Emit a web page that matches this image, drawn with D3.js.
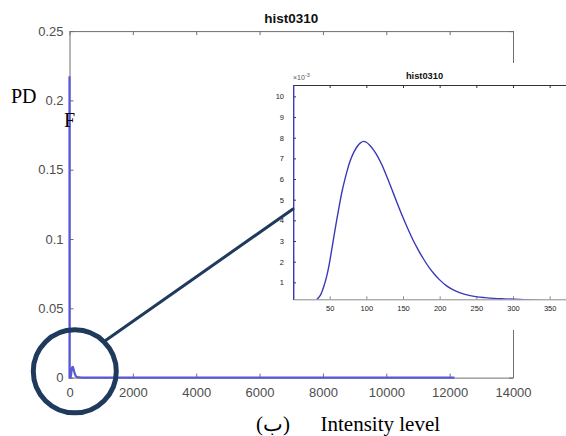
<!DOCTYPE html>
<html>
<head>
<meta charset="utf-8">
<script src="https://cdn.jsdelivr.net/npm/d3@7/dist/d3.min.js"></script>
<style>
  html, body { margin: 0; padding: 0; background: #fff; }
  svg { display: block; }
  .tick text { font-family: "Liberation Sans", Arial, Helvetica, sans-serif; }
</style>
</head>
<body>
<svg id="chart" width="566" height="436"></svg>
<script>
// Histogram of intensity levels (probability density)
const intensity = [0, 1, 30, 33, 38, 42, 46, 49, 53, 57, 60, 64, 67, 71, 74, 78, 83, 88, 92, 96,
  100, 105, 110, 115, 121, 128, 135, 142, 149, 156, 163, 170, 178, 186, 192, 200, 210, 220,
  228, 240, 251, 262, 274, 288, 301, 315, 337, 360, 400, 12150];
// density values in units of 1e-3
const pdfE3 = [217.5, 0, 0, 0.18, 0.42, 0.8, 1.3, 1.8, 2.62, 3.48, 4.1, 4.88, 5.42, 6.02, 6.42, 6.88,
  7.3, 7.6, 7.75, 7.82, 7.78, 7.62, 7.4, 7.12, 6.7, 6.11, 5.48, 4.84, 4.22, 3.64, 3.1, 2.62,
  2.13, 1.7, 1.43, 1.12, 0.82, 0.61, 0.49, 0.37, 0.30, 0.26, 0.225, 0.20, 0.18, 0.16, 0.12, 0.06, 0, 0];

const mainXTicks = [0, 2000, 4000, 6000, 8000, 10000, 12000, 14000];
const mainYTicks = [0, 0.05, 0.1, 0.15, 0.2, 0.25];
const insetXTicks = [50, 100, 150, 200, 250, 300, 350];
const insetYTicks = [1, 2, 3, 4, 5, 6, 7, 8, 9, 10];

const title = "hist0310";
const xLabel = "Intensity level";
const figTag = "(ب)";

const points = intensity.map((x, i) => ({ x, y: pdfE3[i] }));

const svg = d3.select("#chart");
const axisGray = "#6f6f6f";
const textGray = "#4d4d4d";
const lineBlue = "#5858d8";
const navy = "#1f3a5c";

// ---------- main axes ----------
const mx = d3.scaleLinear().domain([0, 14000]).range([69.5, 513]);
const my = d3.scaleLinear().domain([0, 0.25]).range([377.6, 31.1]);

function styleAxis(g, fs, col, lineCol) {
  g.selectAll("path.domain").attr("stroke", lineCol);
  g.selectAll(".tick line").attr("stroke", lineCol);
  g.selectAll(".tick text").attr("fill", col).attr("font-size", fs);
}

const gMain = svg.append("g");
gMain.append("g").attr("transform", `translate(0,${my(0)})`)
  .call(d3.axisBottom(mx).tickValues(mainXTicks).tickFormat(d3.format("d"))
    .tickSize(-4).tickSizeOuter(0).tickPadding(10.5))
  .call(g => styleAxis(g, 13, textGray, axisGray));
gMain.append("g").attr("transform", `translate(0,${my(0.25)})`)
  .call(d3.axisTop(mx).tickValues(mainXTicks).tickFormat("").tickSize(-4).tickSizeOuter(0))
  .call(g => styleAxis(g, 13, textGray, axisGray));
gMain.append("g").attr("transform", `translate(${mx(0)},0)`)
  .call(d3.axisLeft(my).tickValues(mainYTicks).tickFormat(d => d === 0 ? "0" : String(d))
    .tickSize(-4).tickSizeOuter(0).tickPadding(6))
  .call(g => styleAxis(g, 13, textGray, axisGray));
gMain.append("g").attr("transform", `translate(${mx(14000)},0)`)
  .call(d3.axisRight(my).tickValues(mainYTicks).tickFormat("").tickSize(-4).tickSizeOuter(0))
  .call(g => styleAxis(g, 13, textGray, axisGray));

gMain.append("text")
  .attr("x", (mx(0) + mx(14000)) / 2).attr("y", 23)
  .attr("text-anchor", "middle")
  .attr("font-family", "'Liberation Sans', Arial, sans-serif")
  .attr("font-weight", "bold").attr("font-size", 13.5).attr("fill", "#111")
  .text(title);

const mainLine = d3.line().x(d => mx(d.x)).y(d => my(d.y / 1000)).curve(d3.curveMonotoneX);
gMain.append("path").datum(points)
  .attr("d", mainLine).attr("fill", "none")
  .attr("stroke", lineBlue).attr("stroke-width", 2.2);

// Y label split over two lines, serif
svg.append("text").attr("x", 11).attr("y", 103)
  .attr("font-family", "'Liberation Serif', 'Times New Roman', serif")
  .attr("font-size", 20).attr("fill", "#000").text("PD");
svg.append("text").attr("x", 64).attr("y", 127)
  .attr("font-family", "'Liberation Serif', 'Times New Roman', serif")
  .attr("font-size", 20).attr("fill", "#000").text("F");

// X label with figure tag
svg.append("text").attr("x", 256).attr("y", 431)
  .attr("font-family", "'Liberation Serif', 'DejaVu Serif', serif")
  .attr("font-size", 21).attr("fill", "#000").text(figTag);
svg.append("text").attr("x", 320.5).attr("y", 431)
  .attr("font-family", "'Liberation Serif', 'Times New Roman', serif")
  .attr("font-size", 21).attr("fill", "#000").text(xLabel);

// ---------- inset (zoom on low intensities) ----------
const ix = d3.scaleLinear().domain([0, 375]).range([293, 568]);
const iy = d3.scaleLinear().domain([0.18, 10.55]).range([299.3, 85]);

const gIn = svg.append("g");
gIn.append("rect").attr("x", 278).attr("y", 63).attr("width", 288).attr("height", 267)
  .attr("fill", "#fff");

svg.append("defs").append("clipPath").attr("id", "insetClip")
  .append("rect").attr("x", ix(0) - 1.5).attr("y", iy(10.55))
  .attr("width", ix(375) - ix(0) + 1.5).attr("height", iy(0.18) - iy(10.55));

gIn.append("g").attr("transform", `translate(0,${iy(0.18)})`)
  .call(d3.axisBottom(ix).tickValues(insetXTicks).tickSize(-3).tickSizeOuter(0).tickPadding(6))
  .call(g => styleAxis(g, 7.5, "#222", "#8a8a8a"));
gIn.append("g").attr("transform", `translate(0,${iy(10.55)})`)
  .call(d3.axisTop(ix).tickValues(insetXTicks).tickFormat("").tickSize(-3).tickSizeOuter(0))
  .call(g => styleAxis(g, 7.5, "#222", "#333"));
gIn.append("g").attr("transform", `translate(${ix(0)},0)`)
  .call(d3.axisLeft(iy).tickValues(insetYTicks).tickSize(-3).tickSizeOuter(0).tickPadding(9))
  .call(g => styleAxis(g, 7.5, "#222", "#333"));

gIn.append("text").attr("x", ix(0)).attr("y", 80)
  .attr("font-family", "'Liberation Sans', Arial, sans-serif")
  .attr("font-size", 7).attr("fill", "#555")
  .text("×10")
  .append("tspan").attr("dy", -3).attr("font-size", 5.5).text("-3");

gIn.append("text").attr("x", (ix(0) + ix(375)) / 2 - 6).attr("y", 79)
  .attr("text-anchor", "middle")
  .attr("font-family", "'Liberation Sans', Arial, sans-serif")
  .attr("font-weight", "bold").attr("font-size", 9.3).attr("fill", "#111")
  .text(title);

const insetLine = d3.line().x(d => ix(d.x)).y(d => iy(d.y)).curve(d3.curveMonotoneX);
gIn.append("path").datum(points)
  .attr("clip-path", "url(#insetClip)")
  .attr("d", insetLine).attr("fill", "none")
  .attr("stroke", "#3a3ab8").attr("stroke-width", 1.4);

// ---------- zoom marker: circle and connector ----------
const cx = mx(167), cy = my(0.0045), r = 41.5;
const a = -Math.PI / 4;
const sx = cx + (r + 2.5) * Math.cos(a), sy = cy + (r + 2.5) * Math.sin(a);
svg.append("line")
  .attr("x1", sx).attr("y1", sy).attr("x2", ix(0)).attr("y2", iy(4.55))
  .attr("stroke", navy).attr("stroke-width", 3).attr("stroke-linecap", "round");
svg.append("circle").attr("cx", cx).attr("cy", cy).attr("r", r)
  .attr("fill", "none").attr("stroke", navy).attr("stroke-width", 5);
</script>
</body>
</html>
